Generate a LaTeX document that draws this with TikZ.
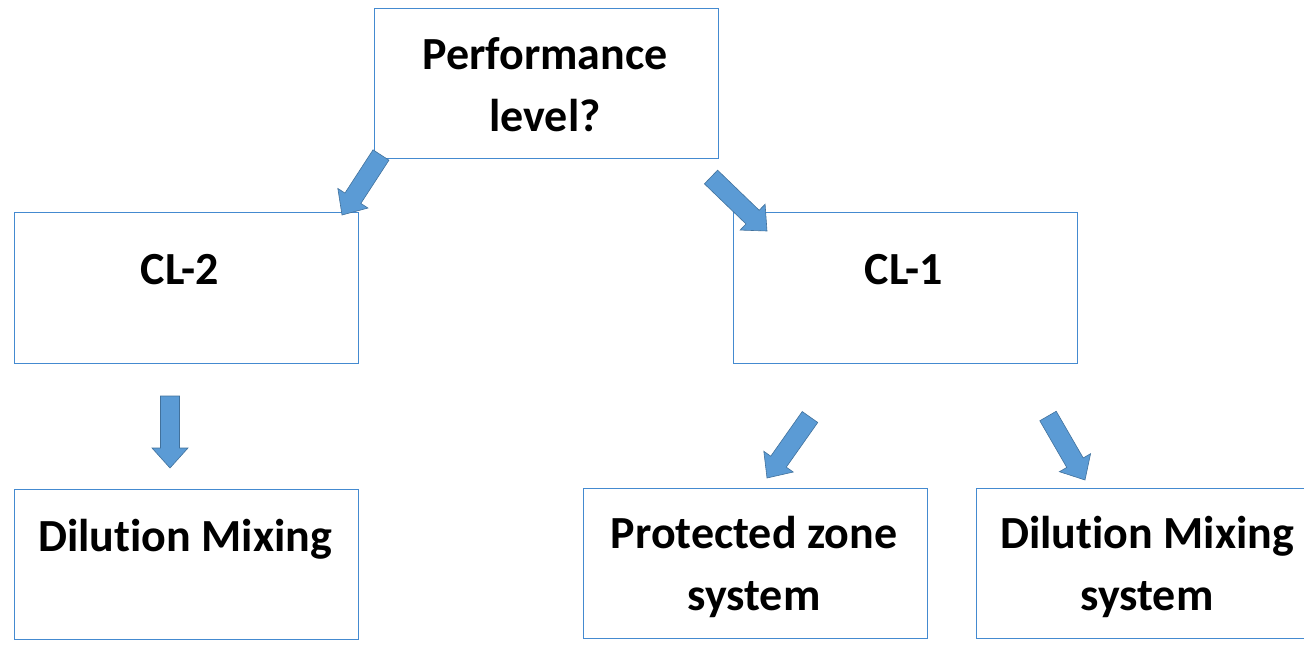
\documentclass[tikz,border=0pt]{standalone}
\usepackage{fontspec}
\setmainfont{Carlito}[Ligatures=NoCommon]
\usetikzlibrary{calc}

\definecolor{boxline}{RGB}{68,138,208}
\definecolor{arrowfill}{RGB}{91,155,213}
\definecolor{arrowline}{RGB}{65,113,156}

\tikzset{
  box/.style={draw=boxline, line width=1.3pt, fill=white, inner sep=0pt},
  label/.style={font=\fontsize{46}{62}\selectfont\bfseries, align=center, anchor=base, inner sep=0pt},
  blockarrow/.style={fill=arrowfill, draw=arrowline, line width=0.6pt, line join=miter},
}

% block arrow between two named coordinates: tail (#1) and tip (#2)
\newcommand\blockarrow[2]{%
  \coordinate (hb) at ($(#2)!20pt!(#1)$);
  \filldraw[blockarrow]
    ($(#1)!9.5pt!90:(#2)$) -- ($(hb)!9.5pt!90:(#2)$) -- ($(hb)!18pt!90:(#2)$)
    -- (#2)
    -- ($(hb)!18pt!-90:(#2)$) -- ($(hb)!9.5pt!-90:(#2)$) -- ($(#1)!9.5pt!-90:(#2)$) -- cycle;
}

\begin{document}
\begin{tikzpicture}[x=1pt,y=-1pt]
  \useasboundingbox (0,0) rectangle (1304,649);
  \clip (0,0) rectangle (1304,649);

  % boxes
  \node[box, minimum width=344pt, minimum height=150pt, anchor=north west] (perf) at (374,8) {};
  \node[box, minimum width=344pt, minimum height=151pt, anchor=north west] (cl2) at (14,212) {};
  \node[box, minimum width=344pt, minimum height=151pt, anchor=north west] (cl1) at (733,212) {};
  \node[box, minimum width=344pt, minimum height=150pt, anchor=north west] (dil) at (14,489) {};
  \node[box, minimum width=344pt, minimum height=150pt, anchor=north west] (prot) at (583,488) {};
  \node[box, minimum width=344pt, minimum height=150pt, anchor=north west] (dils) at (976,488) {};

  % texts (anchored at the baseline of the last line)
  \node[label] (perft) at (545,131) {Performance\\level?};
  \node[label] (cl2t) at (180,284) {CL-2};
  \node[label] (cl1t) at (904,284) {CL-1};
  \node[label] (dilt) at (185,551) {Dilution Mixing};
  \node[label] (prott) at (754,610) {Protected zone\\system};
  \node[label] (dilst) at (1147,610) {Dilution Mixing\\system};

  % arrow ends
  \coordinate (a1s) at (381,155);  \coordinate (a1e) at (342,215);
  \coordinate (a2s) at (711,177);  \coordinate (a2e) at (767,231);
  \coordinate (a3s) at (170,396);  \coordinate (a3e) at (170,468);
  \coordinate (a4s) at (810,417);  \coordinate (a4e) at (767,478);
  \coordinate (a5s) at (1048,416); \coordinate (a5e) at (1085,480);

  \blockarrow{a1s}{a1e}
  \blockarrow{a2s}{a2e}
  \blockarrow{a3s}{a3e}
  \blockarrow{a4s}{a4e}
  \blockarrow{a5s}{a5e}
\end{tikzpicture}
\end{document}
